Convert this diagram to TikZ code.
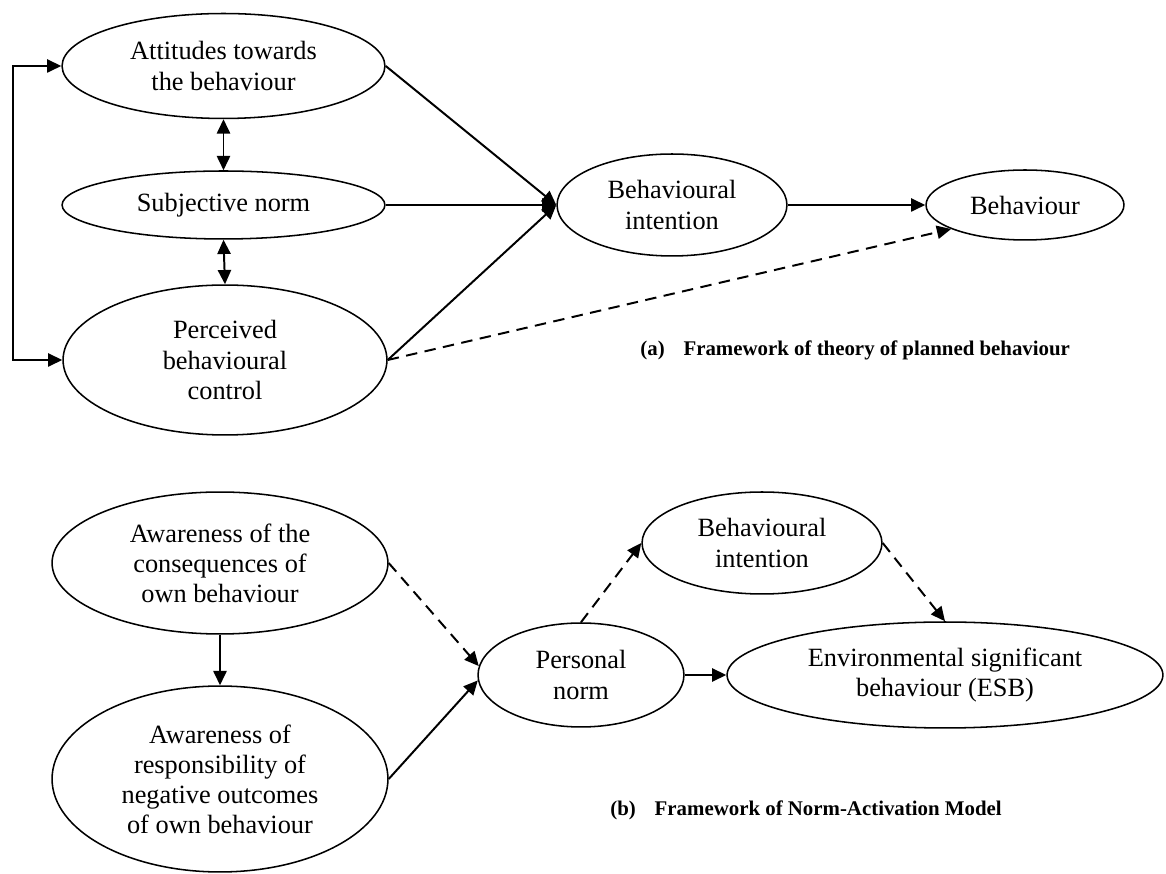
\documentclass[tikz,border=0pt]{standalone}
\usepackage{fontspec}
\setmainfont{Liberation Serif}
\usetikzlibrary{arrows.meta,shapes.geometric}

\begin{document}
\begin{tikzpicture}[x=0.016cm,y=-0.016cm,
  blob/.style={draw,ellipse,line width=0.7pt,inner sep=0pt,align=center,
    font=\fontsize{12}{13.7}\selectfont},
  link/.style={line width=0.9pt,-{Triangle[length=6.5pt,width=6pt]}},
  twoway/.style={line width=0.9pt,{Triangle[length=6.5pt,width=6pt]}-{Triangle[length=6.5pt,width=6pt]}},
  dashlink/.style={link,dash pattern=on 5.2pt off 3.4pt},
  caption/.style={font=\fontsize{9.5}{11}\selectfont\bfseries,inner sep=0pt,anchor=west}]

\useasboundingbox (0,0) rectangle (1166,874);

% (a) theory of planned behaviour
\node[blob,minimum width=5.168cm,minimum height=1.68cm] (att) at (223.5,66) {Attitudes towards\\the behaviour};
\node[blob,minimum width=5.168cm,minimum height=1.088cm] (subj) at (223.5,205) {Subjective norm};
\node[blob,minimum width=5.184cm,minimum height=2.4cm] (pbc) at (225,360) {Perceived\\behavioural\\control};
\node[blob,minimum width=3.68cm,minimum height=1.632cm] (bi) at (672,205) {Behavioural\\intention};
\node[blob,minimum width=3.168cm,minimum height=1.12cm] (beh) at (1025,205) {Behaviour};

\draw[twoway] (att.west) -- ++(-48,0) |- (pbc.west);
\draw[twoway] (att.south) -- (subj.north);
\draw[twoway] (subj.south) -- (pbc.north);
\draw[link] (att.east) -- (bi.west);
\draw[link] (subj.east) -- (bi.west);
\draw[link] (pbc.east) -- (bi.west);
\draw[link] (bi.east) -- (beh.west);
\draw[dashlink] (pbc.east) -- (beh.198);

\node[caption] (capa) at (640,350) {(a)\hspace{0.9em}Framework of theory of planned behaviour};

% (b) norm-activation model
\node[blob,minimum width=5.376cm,minimum height=2.272cm] (ac) at (220,563) {Awareness of the\\consequences of\\own behaviour};
\node[blob,minimum width=5.376cm,minimum height=2.976cm] (ar) at (220,779) {Awareness of\\responsibility of\\negative outcomes\\of own behaviour};
\node[blob,minimum width=3.296cm,minimum height=1.664cm] (pn) at (581,675) {Personal\\norm};
\node[blob,minimum width=3.84cm,minimum height=1.632cm] (bi2) at (762,543) {Behavioural\\intention};
\node[blob,minimum width=6.976cm,minimum height=1.696cm] (esb) at (945,675) {Environmental significant\\behaviour (ESB)};

\draw[link] (ac.south) -- (ar.north);
\draw[dashlink] (ac.east) -- (pn.175);
\draw[link] (ar.east) -- (pn.183);
\draw[dashlink] (pn.north) -- (bi2.west);
\draw[dashlink] (bi2.east) -- (esb.north);
\draw[link] (pn.east) -- (esb.west);

\node[caption] (capb) at (610,810) {(b)\hspace{0.9em}Framework of Norm-Activation Model};
\end{tikzpicture}
\end{document}
